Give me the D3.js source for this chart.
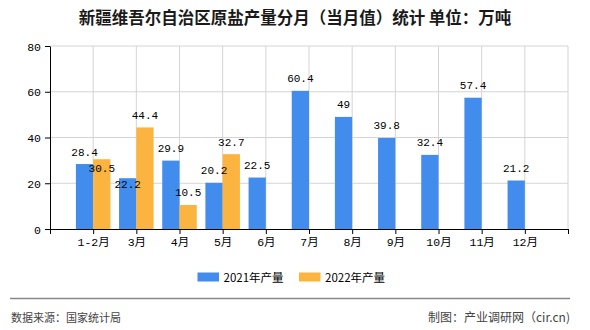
<!DOCTYPE html>
<html><head><meta charset="utf-8">
<script src="https://cdn.jsdelivr.net/npm/d3@7/dist/d3.min.js"></script>
<style>
html,body{margin:0;padding:0;background:#fff;}
svg{display:block;}
</style>
</head><body>
<svg id="chart" width="590" height="330"></svg>
<script>
const title = "新疆维吾尔自治区原盐产量分月（当月值）统计 单位：万吨";
const categories = ["1-2月","3月","4月","5月","6月","7月","8月","9月","10月","11月","12月"];
const series2021 = [28.4,22.2,29.9,20.2,22.5,60.4,49,39.8,32.4,57.4,21.2];
const series2022 = [30.5,44.4,10.5,32.7,null,null,null,null,null,null,null];
const seriesNames = ["2021年产量","2022年产量"];
const seriesColors = ["#428cee","#fbb440"];
const yTicks = [0,20,40,60,80];
const sourceText = "数据来源：国家统计局";
const creditText = "制图：产业调研网（cir.cn)";

const svg = d3.select("#chart");
const L = 50, R = 568, T = 46, B = 229;
const monoFont = "'Liberation Mono','Noto Sans CJK SC',monospace";
const cjkFont = "'Noto Sans CJK SC','Noto Sans',sans-serif";

const x = d3.scaleLinear().domain([0, categories.length + 1]).range([L, R]);
const y = d3.scaleLinear().domain([0, 80]).range([B, T]);
const barW = (x(1) - x(0)) * 0.4;

// title
svg.append("text").attr("x", 295).attr("y", 24).attr("text-anchor", "middle")
  .style("font-family", cjkFont).style("font-size", "16.5px").style("font-weight", "bold")
  .attr("fill", "#1a1a1a").text(title);

// grid
const g = svg.append("g");
g.selectAll("line.hg").data(yTicks.filter(v => v > 0)).join("line")
  .attr("x1", L).attr("x2", R).attr("y1", d => y(d)).attr("y2", d => y(d))
  .attr("stroke", "#d4d4d4").attr("stroke-width", 1);
g.selectAll("line.vg").data(d3.range(1, categories.length + 2)).join("line")
  .attr("x1", d => x(d)).attr("x2", d => x(d)).attr("y1", T).attr("y2", B)
  .attr("stroke", "#d4d4d4").attr("stroke-width", 1);

// bars
const data = [];
categories.forEach((c, i) => {
  [series2021[i], series2022[i]].forEach((v, s) => {
    if (v != null) data.push({ i, s, v });
  });
});
svg.append("g").selectAll("rect").data(data).join("rect")
  .attr("x", d => d.s === 0 ? x(d.i + 1) - barW : x(d.i + 1))
  .attr("width", barW)
  .attr("y", d => y(d.v))
  .attr("height", d => y(0) - y(d.v))
  .attr("fill", d => seriesColors[d.s]);

// axes
const xAxis = d3.axisBottom(x).tickValues(d3.range(0, categories.length + 2))
  .tickFormat(d => categories[d - 1] || "").tickSize(5).tickSizeOuter(0);
const xa = svg.append("g").attr("transform", `translate(0,${B})`).call(xAxis);
xa.select(".domain").attr("stroke", "#000");
xa.selectAll(".tick line").attr("stroke", "#000");
xa.selectAll(".tick text").attr("dy", 0).attr("y", 17)
  .style("font-family", monoFont).style("font-size", "11.5px").attr("fill", "#000");

const yAxis = d3.axisLeft(y).tickValues(yTicks).tickSize(5).tickSizeOuter(0);
const ya = svg.append("g").attr("transform", `translate(${L},0)`).call(yAxis);
ya.select(".domain").attr("stroke", "#000");
ya.selectAll(".tick line").attr("stroke", "#000");
ya.selectAll(".tick text").attr("x", -9).attr("dy", "0.35em")
  .style("font-family", monoFont).style("font-size", "11.5px").attr("fill", "#000");

// value labels with simple overlap avoidance (shift down)
const placed = [];
const labels = data.map(d => {
  const cx = (d.s === 0 ? x(d.i + 1) - barW : x(d.i + 1)) + barW / 2;
  const txt = String(d.v);
  const w = txt.length * 6.6;
  let base = y(d.v) - 8.5;
  let box = { x0: cx - w / 2, x1: cx + w / 2, y0: base - 12, y1: base + 4 };
  for (const p of placed) {
    if (box.x0 < p.x1 && box.x1 > p.x0 && box.y0 < p.y1 && box.y1 > p.y0) {
      const dy = p.y1 - box.y0;
      base += dy; box.y0 += dy; box.y1 += dy;
    }
  }
  placed.push(box);
  return { cx, base, txt };
});
svg.append("g").selectAll("text").data(labels).join("text")
  .attr("x", d => d.cx).attr("y", d => d.base).attr("text-anchor", "middle")
  .style("font-family", monoFont).style("font-size", "11px").attr("fill", "#000")
  .text(d => d.txt);

// legend
const legendX = [197.5, 299];
const lg = svg.append("g");
seriesNames.forEach((n, k) => {
  lg.append("rect").attr("x", legendX[k]).attr("y", 272.5).attr("width", 21.5).attr("height", 9)
    .attr("fill", seriesColors[k]);
  lg.append("text").attr("x", legendX[k] + 26).attr("y", 281.5)
    .style("font-family", cjkFont).style("font-size", "11.5px").attr("fill", "#000").text(n);
});

// footer
svg.append("line").attr("x1", 10).attr("x2", 570).attr("y1", 298.5).attr("y2", 298.5)
  .attr("stroke", "#888").attr("stroke-width", 1.5);
svg.append("text").attr("x", 11).attr("y", 321.5)
  .style("font-family", cjkFont).style("font-size", "11px").attr("fill", "#444").text(sourceText);
svg.append("text").attr("x", 570).attr("y", 321.5).attr("text-anchor", "end")
  .style("font-family", cjkFont).style("font-size", "12px").attr("fill", "#444").text(creditText);
</script>
</body></html>
